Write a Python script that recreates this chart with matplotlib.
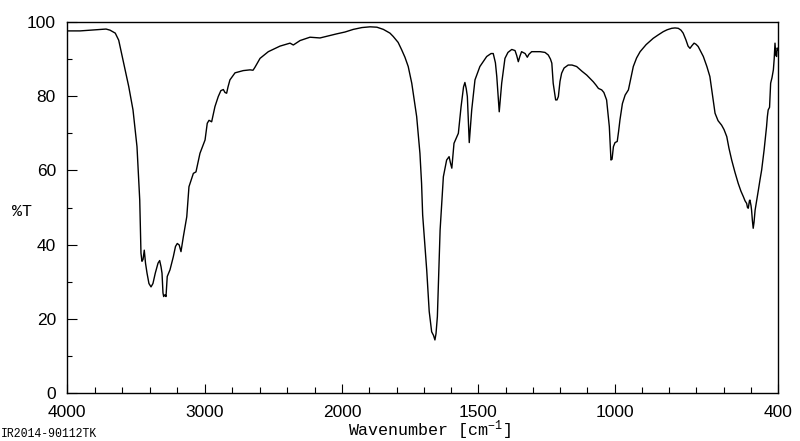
import numpy as np
import matplotlib
matplotlib.use("Agg")
import matplotlib.pyplot as plt

# ---- data ----
wavenumber = [
    4000, 3905, 3833, 3760, 3716, 3687, 3649, 3624, 3588, 3551, 3520, 3491, 3471, 3462,
    3455, 3447, 3438, 3429, 3418, 3404, 3389, 3375, 3358, 3338, 3326, 3316, 3309, 3302,
    3297, 3287, 3280, 3271, 3251, 3227, 3211, 3198, 3184, 3171, 3154, 3129, 3113, 3081,
    3062, 3051, 3033, 2996, 2980, 2967, 2948, 2924, 2900, 2881, 2863, 2851, 2839, 2829,
    2815, 2778, 2718, 2669, 2647, 2633, 2596, 2536, 2451, 2378, 2354, 2305, 2233, 2160,
    2039, 1989, 1959, 1927, 1897, 1872, 1848, 1824, 1812, 1794, 1781, 1769, 1757, 1744,
    1726, 1714, 1708, 1704, 1689, 1680, 1671, 1664, 1659, 1655, 1650, 1640, 1628, 1616,
    1607, 1602, 1597, 1589, 1582, 1573, 1563, 1554, 1549, 1544, 1540, 1533, 1524, 1512,
    1494, 1469, 1453, 1445, 1437, 1432, 1423, 1414, 1402, 1391, 1377, 1365, 1359, 1353,
    1347, 1341, 1328, 1320, 1314, 1304, 1273, 1255, 1243, 1235, 1230, 1225, 1216, 1211,
    1206, 1200, 1194, 1185, 1170, 1156, 1139, 1119, 1102, 1090, 1078, 1068, 1059, 1047,
    1039, 1029, 1024, 1019, 1013, 1009, 1004, 998, 990, 985, 980, 971, 961, 949, 941,
    931, 919, 906, 884, 858, 840, 821, 807, 790, 778, 766, 756, 748, 738, 730, 723, 716,
    708, 701, 693, 683, 674, 661, 650, 640, 631, 620, 607, 598, 588, 580, 570, 558, 546,
    536, 527, 521, 515, 512, 509, 505, 503, 499, 497, 494, 491, 488, 484, 479, 472, 466,
    460, 451, 442, 439, 436, 431, 427, 422, 417, 414, 411, 408, 405, 403, 400,
]
transmittance = [
    97.6, 97.6, 97.8, 98.0, 98.1, 97.8, 97.0, 95.1, 88.9, 82.6, 76.3, 66.4, 52.0, 37.7,
    35.5, 36.0, 38.5, 35.0, 32.3, 29.5, 28.6, 29.5, 32.3, 35.0, 35.7, 34.0, 32.3, 27.0,
    26.0, 26.5, 26.0, 31.4, 33.2, 36.7, 39.5, 40.3, 39.9, 38.1, 42.1, 47.5, 55.6, 59.2,
    59.6, 61.5, 64.6, 68.2, 72.7, 73.5, 73.1, 77.2, 79.9, 81.5, 81.8, 81.0, 80.8, 82.5,
    84.4, 86.3, 86.9, 87.1, 87.0, 87.8, 90.2, 92.0, 93.5, 94.3, 93.8, 95.0, 95.9, 95.7,
    96.8, 97.3, 98.0, 98.5, 98.7, 98.6, 98.0, 97.0, 96.1, 94.5, 92.5, 90.5, 88.0, 83.5,
    74.5, 64.6, 56.5, 48.0, 33.0, 22.0, 16.5, 15.5, 14.3, 16.0, 20.6, 43.9, 58.3, 62.8,
    63.7, 62.0, 60.6, 67.3, 68.5, 70.0, 77.2, 82.5, 83.7, 82.0, 79.9, 67.5, 76.3, 84.4,
    88.0, 90.7, 91.5, 91.5, 89.0, 85.3, 75.8, 83.5, 90.2, 91.8, 92.6, 92.3, 91.0, 89.3,
    90.8, 92.0, 91.5, 90.5, 91.3, 92.0, 92.0, 91.8, 91.1, 90.0, 88.9, 83.5, 79.0, 79.0,
    79.9, 84.0, 86.2, 87.6, 88.4, 88.4, 88.0, 86.7, 85.7, 84.8, 83.9, 83.0, 82.1, 81.7,
    81.0, 79.0, 75.5, 71.8, 62.8, 63.0, 66.4, 67.5, 67.8, 70.5, 73.6, 78.0, 80.3, 81.7,
    84.5, 88.0, 90.3, 92.0, 93.9, 95.6, 96.5, 97.4, 97.9, 98.3, 98.4, 98.3, 97.8, 97.0,
    95.2, 93.5, 92.9, 93.6, 94.3, 94.0, 93.4, 92.0, 90.7, 88.0, 85.3, 80.0, 75.4, 73.4,
    72.2, 71.0, 69.1, 66.0, 62.8, 59.5, 56.5, 54.4, 52.9, 51.8, 51.1, 50.0, 49.8, 51.8,
    52.0, 50.5, 49.3, 46.5, 44.4, 46.0, 49.3, 51.5, 54.7, 57.5, 60.1, 65.5, 71.8, 74.5,
    76.3, 77.0, 83.5, 85.0, 87.1, 90.0, 94.3, 91.0, 90.7, 93.0, 92.5,
]

x_major = [4000, 3000, 2000, 1500, 1000, 400]
x_major_labels = ["4000", "3000", "2000", "1500", "1000", "400"]
x_minor = [3800, 3600, 3400, 3200, 2800, 2600, 2400, 2200,
           1900, 1800, 1700, 1600, 1400, 1300, 1200, 1100, 900, 800, 700, 600, 500]
y_major = [0, 20, 40, 60, 80, 100]
y_minor = [10, 30, 50, 70, 90]

# ---- axis scale: compressed above 2000 cm-1 ----
RATIO = 137.5 / 272.5


def fwd(w):
    w = np.asarray(w, dtype=float)
    return np.where(w > 2000, 2000 + (w - 2000) * RATIO, w)


def inv(u):
    u = np.asarray(u, dtype=float)
    return np.where(u > 2000, 2000 + (u - 2000) / RATIO, u)


plt.rcParams["mathtext.fontset"] = "custom"
plt.rcParams["mathtext.rm"] = "Liberation Mono"
plt.rcParams["mathtext.it"] = "Liberation Mono"

fig = plt.figure(figsize=(8.0, 4.41), dpi=100)
ax = fig.add_axes([67 / 800, 48 / 441, 711 / 800, 371 / 441])
ax.set_xscale("function", functions=(fwd, inv))
ax.plot(wavenumber, transmittance, color="black", lw=1.0)
ax.set_xlim(4000, 400)
ax.set_ylim(0, 100)

for s in ax.spines.values():
    s.set_linewidth(1.0)
    s.set_color("black")

ax.set_xticks(x_major)
ax.set_xticklabels(x_major_labels)
ax.set_xticks(x_minor, minor=True)
ax.set_yticks(y_major)
ax.set_yticks(y_minor, minor=True)

for lab in ax.get_xticklabels() + ax.get_yticklabels():
    lab.set_fontfamily("Liberation Sans")
    lab.set_fontsize(12.5)

ax.tick_params(axis="x", which="major", direction="in", length=6.5, width=0.8,
               pad=8.5, top=False)
ax.tick_params(axis="x", which="minor", direction="in", length=4.3, width=0.8,
               top=False)
ax.tick_params(axis="y", which="major", direction="in", length=7.2, width=0.8,
               pad=8, right=False)
ax.tick_params(axis="y", which="minor", direction="in", length=3.6, width=0.8,
               right=False)

fig.text(22 / 800, 1 - 211 / 441, "%T", family="Liberation Mono", fontsize=12,
         ha="center", va="center")
fig.text(429 / 800, 1 - 436 / 441, r"Wavenumber [cm$^{-1}$]",
         family="Liberation Mono", fontsize=12, ha="center", va="baseline")
fig.text(1 / 800, 1 - 437 / 441, "IR2014-90112TK", family="Liberation Mono",
         fontsize=8.3, ha="left", va="baseline")

fig.savefig("out.png", dpi=100)
